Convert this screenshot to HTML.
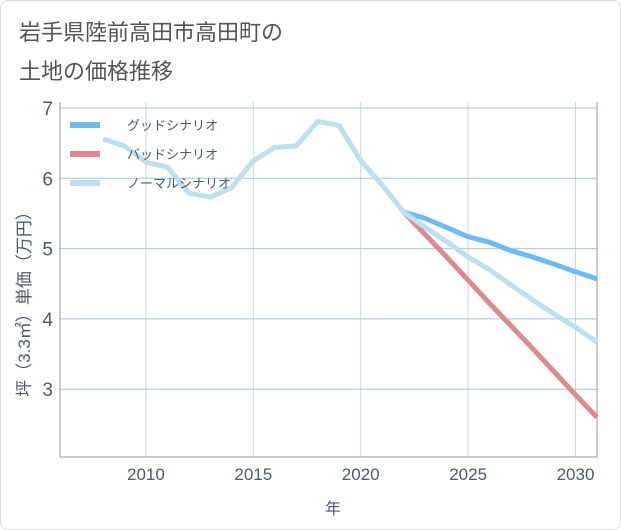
<!DOCTYPE html>
<html><head><meta charset="utf-8"><style>
body{margin:0;background:#fff;font-family:"Liberation Sans","Noto Sans CJK JP",sans-serif;}
#wrap{position:relative;width:619px;height:528px;border:1px solid #ddd;border-radius:8px;overflow:hidden;background:#fff}
.t{position:absolute;left:18px;font-size:22px;color:#555;}
</style></head><body>
<div id="wrap">
<div class="t" style="top:14px">岩手県陸前高田市高田町の</div>
<div class="t" style="top:53px">土地の価格推移</div>
<svg id="c" width="621" height="530" style="position:absolute;left:-1px;top:-1px"></svg>
</div>
<script>
const years=[2008,2009,2010,2011,2012,2013,2014,2015,2016,2017,2018,2019,2020,2021,2022];
const normalHist=[6.56,6.46,6.23,6.16,5.79,5.73,5.87,6.25,6.44,6.46,6.81,6.75,6.25,5.9,5.52];
const futYears=[2022,2023,2024,2025,2026,2027,2028,2029,2030,2031];
const good=[5.52,5.43,5.3,5.17,5.09,4.97,4.88,4.78,4.67,4.57];
const bad=[5.52,5.2,4.88,4.55,4.22,3.9,3.58,3.25,2.92,2.6];
const normalFut=[5.52,5.3,5.1,4.88,4.7,4.48,4.27,4.07,3.88,3.67];
const xTicks=[2010,2015,2020,2025,2030];
const yTicks=[3,4,5,6,7];
const L=60,R=597,T=102,B=457;
const X=y=>L+(y-2006)*(R-L)/25;
const Y=v=>108+(7-v)*70.3;
const svg=document.getElementById('c');const NS='http://www.w3.org/2000/svg';
function mk(t,a,p){const e=document.createElementNS(NS,t);for(const k in a)e.setAttribute(k,a[k]);(p||svg).appendChild(e);return e;}
xTicks.forEach(t=>{const l=mk('line',{x1:X(t),x2:X(t),y1:T,y2:B,stroke:'#c8d8e8','stroke-width':1});


const tx=mk('text',{x:X(t),y:480,'text-anchor':'middle','font-size':17,fill:'#4a5a70'});tx.textContent=t;

});
yTicks.forEach(t=>{const l=mk('line',{x1:L,x2:R,y1:Y(t),y2:Y(t),stroke:'#a8c4dc','stroke-width':1});


const tx=mk('text',{x:53,y:Y(t)+7,'text-anchor':'end','font-size':19,fill:'#4a5a70'});tx.textContent=t;

});
const ax=mk('path',{d:`M${L},${T}V${B}H${R}V${T}`,fill:'none',stroke:'#999','stroke-width':1});


function line(xs,vs,col,name){const p=mk('polyline',{points:xs.map((x,i)=>X(x)+','+Y(vs[i])).join(' '),fill:'none',stroke:col,'stroke-width':5,'stroke-linejoin':'round'});

}
line(futYears,bad,'#de8890','bad-scenario-line');
line(futYears,good,'#6bbcf4','good-scenario-line');
line(years.concat(futYears.slice(1)),normalHist.concat(normalFut.slice(1)),'#bde0ee','normal-scenario-line');
[['グッドシナリオ','#6bbcf4'],['バッドシナリオ','#de8890'],['ノーマルシナリオ','#bde0ee']].forEach((d,i)=>{const y=125+i*29;
const l=mk('line',{x1:70,x2:100,y1:y,y2:y,stroke:d[1],'stroke-width':6});


const tx=mk('text',{x:127,y:y+5,'font-size':13,fill:'#4a5a70'});tx.textContent=d[0];

});
const yt=mk('text',{x:0,y:0,transform:'translate(30,300) rotate(-90)','text-anchor':'middle','font-size':17,fill:'#4a5a70'});yt.textContent='坪（3.3㎡）単価（万円）';


const xt=mk('text',{x:333,y:514,'text-anchor':'middle','font-size':16,fill:'#4a5a70'});xt.textContent='年';


</script>
</body></html>
